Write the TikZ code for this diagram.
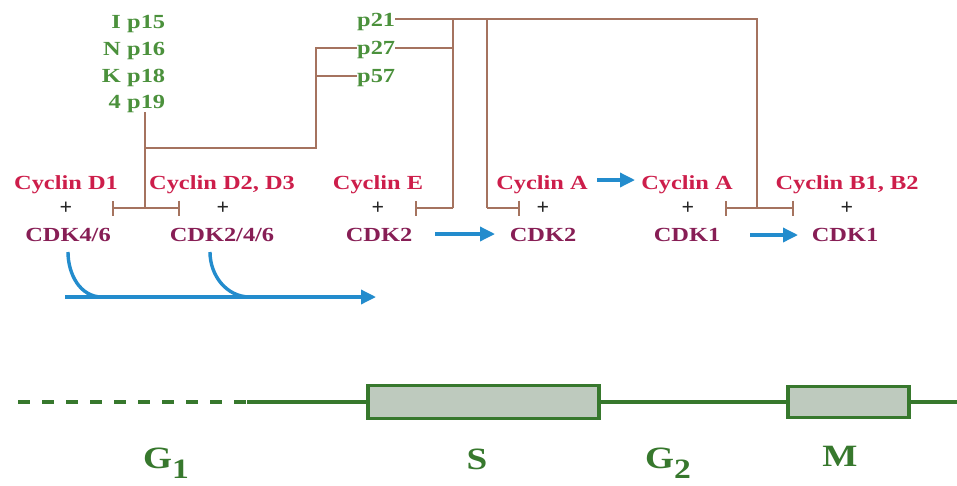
\documentclass[tikz,border=0pt]{standalone}
\usepackage{fontspec}
\setmainfont{Liberation Serif}
\newfontfamily\wf[FakeStretch=1.22]{Liberation Serif}
\newfontfamily\gf[FakeStretch=1.2]{Liberation Serif}
\usetikzlibrary{arrows.meta}
\definecolor{cyc}{RGB}{205,30,75}
\definecolor{cdk}{RGB}{135,30,85}
\definecolor{inkg}{RGB}{75,145,60}
\definecolor{inh}{RGB}{165,115,95}
\definecolor{arr}{RGB}{35,140,205}
\definecolor{phg}{RGB}{55,120,45}
\definecolor{boxf}{RGB}{190,202,190}
\tikzset{
  cyclab/.style={anchor=base,inner sep=0pt,text=cyc,font=\wf\bfseries\fontsize{20}{21}\selectfont},
  cdklab/.style={anchor=base,inner sep=0pt,text=cdk,font=\wf\bfseries\fontsize{20}{21}\selectfont},
  plus/.style={inner sep=0pt,text=black!85,font=\bfseries\fontsize{22}{22}\selectfont},
  inklab/.style={anchor=base west,inner sep=0pt,text=inkg,font=\wf\bfseries\fontsize{20}{21}\selectfont},
  inkletter/.style={anchor=base east,inner sep=0pt,text=inkg,font=\wf\bfseries\fontsize{20}{21}\selectfont},
  inhline/.style={draw=inh,line width=1.8pt},
  inhbar/.style={inhline,-{Bar[width=15pt,line width=1.8pt]}},
  act/.style={draw=arr,line width=3.4pt,-{Triangle[length=15pt,width=14pt]}},
  actline/.style={draw=arr,line width=3.4pt},
  phline/.style={draw=phg,line width=3.6pt},
  phbox/.style={draw=phg,line width=3.8pt,fill=boxf},
  phlab/.style={anchor=base,inner sep=0pt,text=phg,font=\gf\bfseries\fontsize{31}{32}\selectfont},
}
\newcommand{\sbs}[1]{\raisebox{-10pt}{\fontsize{28}{28}\selectfont #1}}
\begin{document}
\begin{tikzpicture}[x=1pt,y=-1pt]
\useasboundingbox[fill=white] (0,0) rectangle (957,485);
% INK4 column
\node[inkletter] (lI) at (121,28) {I};
\node[inkletter] (lN) at (121,55) {N};
\node[inkletter] (lK) at (121,82) {K};
\node[inkletter] (l4) at (121,108) {4};
\node[inklab] (p15) at (127,28) {p15};
\node[inklab] (p16) at (127,55) {p16};
\node[inklab] (p18) at (127,82) {p18};
\node[inklab] (p19) at (127,108) {p19};
% Cip/Kip
\node[inklab] (p21) at (357,26) {p21};
\node[inklab] (p27) at (357,54) {p27};
\node[inklab] (p57) at (357,82) {p57};
% complexes
\node[cyclab] (cd1) at (66,189) {Cyclin D1};
\node[plus] (pl1) at (66,208) {+};
\node[cdklab] (cdk46) at (68,241) {CDK4/6};
\node[cyclab] (cd23) at (222,189) {Cyclin D2, D3};
\node[plus] (pl2) at (223,208) {+};
\node[cdklab] (cdk246) at (222,241) {CDK2/4/6};
\node[cyclab] (ce) at (378,189) {Cyclin E};
\node[plus] (pl3) at (378,208) {+};
\node[cdklab] (cdk2a) at (379,241) {CDK2};
\node[cyclab] (ca1) at (542,189) {Cyclin A};
\node[plus] (pl4) at (543,208) {+};
\node[cdklab] (cdk2b) at (543,241) {CDK2};
\node[cyclab] (ca2) at (687,189) {Cyclin A};
\node[plus] (pl5) at (688,208) {+};
\node[cdklab] (cdk1a) at (687,241) {CDK1};
\node[cyclab] (cb) at (847,189) {Cyclin B1, B2};
\node[plus] (pl6) at (847,208) {+};
\node[cdklab] (cdk1b) at (845,241) {CDK1};
% inhibition coordinates
\coordinate (jD) at (145,208);
\coordinate (bD1) at (112,208);
\coordinate (bD2) at (180,208);
\coordinate (jK) at (145,148);
\coordinate (kx) at (316,148);
\coordinate (k27) at (316,48);
\coordinate (k57) at (316,76);
\coordinate (t1) at (453,19);
\coordinate (t2) at (487,19);
\coordinate (t3) at (757,19);
\coordinate (jE) at (453,208);
\coordinate (bE) at (415,208);
\coordinate (jA) at (487,208);
\coordinate (bA) at (520,208);
\coordinate (jB) at (757,208);
\coordinate (bA2) at (725,208);
\coordinate (bB) at (794,208);
\coordinate (p27e) at (453,48);
% INK4 inhibition
\draw[inhline] (p19.south -| jD) -- (jD);
\draw[inhbar] (jD) -- (bD1);
\draw[inhbar] (jD) -- (bD2);
\draw[inhline] (jK) -- (kx) -- (k27) -- (p27.west |- k27);
\draw[inhline] (k57) -- (p57.west |- k57);
% Cip/Kip inhibition
\draw[inhline] (p21.east |- t1) -- (t3) -- (jB);
\draw[inhline] (t1) -- (jE);
\draw[inhline] (p27.east |- p27e) -- (p27e);
\draw[inhbar] (jE) -- (bE);
\draw[inhline] (t2) -- (jA);
\draw[inhbar] (jA) -- (bA);
\draw[inhbar] (jB) -- (bA2);
\draw[inhbar] (jB) -- (bB);
% activation arrows
\coordinate (a1s) at (435,234);
\coordinate (a1e) at (495,234);
\draw[act] (a1s) -- (a1e);
\coordinate (a2s) at (597,180);
\coordinate (a2e) at (635,180);
\draw[act] (a2s) -- (a2e);
\coordinate (a3s) at (750,235);
\coordinate (a3e) at (798,235);
\draw[act] (a3s) -- (a3e);
\coordinate (ls) at (65,297);
\coordinate (le) at (376,297);
\coordinate (m1) at (102,297);
\coordinate (m2) at (250,297);
\draw[act] (ls) -- (le);
\draw[actline] (68,252) to[out=-90,in=180] (m1);
\draw[actline] (210,252) to[out=-90,in=180] (m2);
% cell cycle line
\coordinate (d0) at (18,402);
\coordinate (d1) at (247,402);
\coordinate (eEnd) at (957,402);
\draw[phline,dash pattern=on 12pt off 12pt] (d0) -- (d1);
\draw[phline] (d1) -- (eEnd);
\node[phbox,minimum width=231pt,minimum height=33pt,inner sep=0pt] (Sbox) at (483.5,402) {};
\node[phbox,minimum width=121pt,minimum height=31pt,inner sep=0pt] (Mbox) at (848.5,402) {};
\node[phlab] (G1) at (166,468) {G\sbs{1}};
\node[phlab] (S) at (477,469) {S};
\node[phlab] (G2) at (668,468) {G\sbs{2}};
\node[phlab] (M) at (840,466) {M};
\end{tikzpicture}
\end{document}
